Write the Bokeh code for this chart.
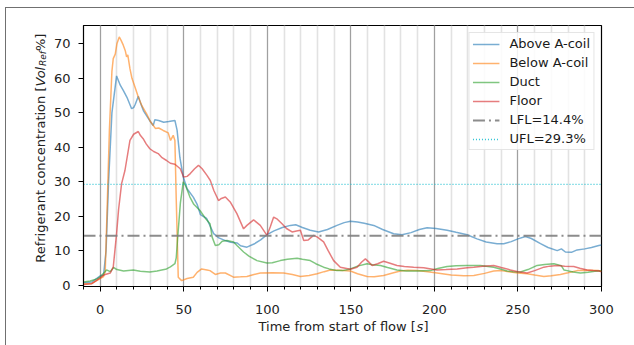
from math import pi

from bokeh.embed import file_html
from bokeh.models import Label, Legend, LegendItem, Range1d, SingleIntervalTicker
from bokeh.plotting import figure
from bokeh.resources import INLINE

# Refrigerant concentration readings (time in s, concentration in Vol_Ref %)
t_above = [-10, -5, 0, 2, 3.5, 5, 7, 9.8, 12, 13.8, 16, 18.8, 20, 21, 22.8, 24, 26, 28, 30,
           31.7, 32.7, 35, 38, 41, 44.7, 46, 47.7, 49.7, 52, 55.7, 58, 60, 63.7, 65.5, 67.9,
           71, 74.9, 78, 82, 84, 87.8, 92, 96, 99.8, 104, 109, 113.8, 117, 121, 125.7, 130.7,
           136, 141.7, 146, 149.7, 154, 158, 163.7, 169, 175.6, 180.6, 186, 191, 195.6, 201,
           207.6, 213, 219.6, 225.5, 231, 237.5, 241.5, 246, 250, 254.5, 258, 263.5, 268,
           273.5, 276, 278.4, 282, 285.4, 290, 294, 298.4, 300]
v_above = [0.8, 1.0, 2.8, 3.0, 10, 30, 50, 60.7, 58, 56.5, 54.5, 51.2, 51.5, 52.5, 54.8, 53,
           50.5, 49, 47.5, 46.3, 48, 47.8, 47.3, 47.5, 47.8, 45, 37, 31.4, 28, 25.6, 23.5,
           20.5, 19.4, 17.5, 15, 13.8, 13, 12.5, 12.3, 11.5, 11.1, 12, 13.2, 14.7, 15.8, 16.8,
           17.4, 17.6, 16.8, 16, 15.5, 16.2, 17.4, 18.2, 18.6, 18.4, 18, 17.4, 16.2, 15, 14.7,
           15.3, 16.2, 16.7, 16.5, 16, 15.4, 14.7, 13.5, 12.6, 12.1, 12.1, 12.7, 13.5, 14.2,
           13.6, 12.1, 11, 10.1, 10.6, 9.7, 9.6, 10.3, 10.6, 11, 11.6, 11.7]

t_below = [-10, -5, 0, 2, 3, 4, 5.5, 7, 7.8, 9, 10, 11.4, 12.5, 13.8, 15, 15.8, 16.5, 17.8,
           19, 20.8, 22.8, 25, 27.7, 30, 31.7, 33, 35, 37.7, 40.7, 42.1, 43.7, 44.7, 45.5,
           46.7, 48.7, 52, 55.7, 58, 60.7, 63.9, 65.7, 68.9, 72, 74.9, 79.8, 84, 87.8, 92,
           95.8, 103, 109.8, 115, 119.8, 125, 129.8, 134, 137.7, 143, 149.7, 154, 159.7, 164,
           169.6, 175, 179.6, 184, 189.6, 196, 201.6, 210, 217.6, 223.6, 230, 235.5, 240,
           245.5, 250, 255.5, 260, 265.5, 270, 275.4, 280, 285.4, 292, 298.4, 300]
v_below = [0.4, 0.6, 2.0, 2.6, 4, 20, 45, 62, 65.7, 67, 70, 72, 71, 69.6, 68, 66.2, 66.8,
           62.8, 60, 57.5, 54.6, 52, 49.8, 47.5, 46.4, 45.5, 45.6, 44.9, 44.2, 42, 43.5, 42,
           25, 2.4, 1.4, 2, 2.4, 3.8, 4.8, 4.5, 4.3, 3.2, 3.6, 3.6, 2.4, 2.5, 2.6, 3.2, 3.6,
           3.7, 3.6, 3.2, 2.6, 2.9, 3.4, 4, 4.5, 4.4, 4.2, 3.4, 2.6, 2.5, 2.9, 3.6, 4.2, 4.4,
           4.3, 4.0, 3.6, 3.0, 2.8, 2.9, 3.5, 4.2, 4.3, 3.9, 3.6, 3.4, 3.0, 2.6, 2.8, 3.2,
           3.7, 4.3, 4.4, 4.3, 4.2]

t_duct = [-10, -6, -2, -0.2, 2, 3.8, 6, 8, 10, 14, 19.8, 24, 29.7, 34, 39.7, 42, 44.7, 45.5,
          46.7, 48, 49.7, 51, 53.7, 56, 59.7, 62.9, 65.7, 67, 68.9, 71, 73, 75.9, 79.8, 82,
          85.8, 89, 93.8, 99.8, 103, 107.8, 112, 117.8, 121, 125.7, 129, 133.7, 137, 141.7,
          145, 149.7, 154, 159.7, 163, 167.7, 172, 177.6, 183, 189.6, 197.6, 202, 207.6, 213,
          219.6, 227.5, 235.5, 240, 243.5, 247, 251.5, 256, 261.5, 266, 271.5, 276, 277.5,
          279.4, 283, 287.4, 292, 296, 298.4, 300]
v_duct = [1.0, 1.3, 1.9, 2.4, 3.5, 4.5, 4.0, 5.2, 4.6, 4.2, 4.5, 4.1, 3.9, 4.2, 4.8, 5.4,
          6.3, 8, 16, 24, 30, 29, 25.6, 23.5, 21.7, 19.5, 17.9, 14, 11.6, 11.8, 12.8, 13,
          12.6, 11.5, 9.7, 8.5, 7.2, 6.5, 6.6, 7.2, 7.6, 7.9, 7.6, 7.2, 6.3, 5.3, 4.8, 4.3,
          4.3, 4.8, 5.6, 6.3, 6.0, 5.8, 5.2, 4.5, 4.2, 4.2, 4.3, 4.9, 5.5, 5.7, 5.8, 5.8, 5.3,
          4.7, 4.2, 4.0, 3.9, 4.6, 5.8, 6.1, 6.3, 5.7, 4.5, 4.3, 3.9, 3.6, 3.8, 4.1, 4.2, 4.2]

t_floor = [-10, -5, 0, 2, 4, 6, 7.8, 9.8, 11, 12.8, 14.8, 17.8, 20, 22.8, 24, 25.7, 27.5,
           29.7, 32, 34.7, 37, 39.7, 42, 44.7, 47.9, 49.9, 52, 53.9, 56.5, 58.8, 61, 63.9,
           65.9, 68, 70.8, 72.5, 74.9, 77.8, 81.8, 85.8, 87.8, 91.8, 95.8, 99.8, 101.8, 103.8,
           106, 108.8, 111.5, 114.8, 117.5, 119.8, 121.8, 124.5, 127.7, 130, 133.7, 136.5,
           139.7, 143.7, 149.7, 153.7, 156.5, 158.7, 160.5, 162.7, 166, 169.6, 173, 177.6,
           182, 187.6, 193.6, 201.6, 207, 213.6, 219.6, 223.6, 229, 235.5, 240, 245.5, 250,
           255.5, 260, 265.5, 269, 273.5, 278, 283.4, 287, 291.4, 295, 298.4, 300]
v_floor = [0.3, 0.5, 2.2, 3.0, 3.3, 3.6, 5.3, 15, 22, 29.5, 33.3, 42, 43.8, 44.6, 43.5, 42.5,
           41, 39.6, 38.8, 38.2, 37, 36.2, 35.4, 35.1, 33.8, 31.4, 31.6, 32.4, 33.8, 34.8,
           33.8, 31.9, 30.4, 27.5, 24.6, 25.2, 25.6, 24.2, 20.8, 16.4, 17.4, 19.0, 17.4, 14.5,
           17, 19.8, 19.2, 17.9, 16.5, 15.5, 15.8, 16, 13, 13.2, 14.5, 14, 12.6, 10, 7.2, 5.3,
           4.7, 5.3, 6.8, 7.7, 6.9, 5.8, 6.3, 7.0, 6.5, 5.8, 5.5, 5.3, 5.1, 4.5, 4.6, 4.8,
           5.1, 5.3, 5.6, 5.8, 5.2, 4.5, 4.0, 3.6, 4.3, 5.3, 5.6, 5.8, 5.6, 5.5, 5.0, 4.5,
           4.3, 4.2, 4.0]

LFL = 14.4
UFL = 29.3
x_start, x_end = -10, 300
y_start, y_end = -0.3, 75.3
y_ticks = [0, 10, 20, 30, 40, 50, 60, 70]

FONT = "DejaVu Sans"
FS = "13px"

p = figure(
    frame_width=518, frame_height=261,
    min_border_left=77, min_border_right=33, min_border_top=17, min_border_bottom=59,
    x_range=Range1d(x_start, x_end), y_range=Range1d(y_start, y_end),
    output_backend="svg", toolbar_location=None,
    background_fill_color="white", border_fill_color="white",
)
p.margin = (7, 0, 0, 5)
p.styles = {"border-top": "1px solid #707070", "border-left": "1px solid #707070"}

p.outline_line_color = "black"
p.outline_line_width = 1.2

# axes
p.xaxis.ticker = SingleIntervalTicker(interval=50, num_minor_ticks=5)
p.yaxis.ticker = y_ticks
for ax in (p.xaxis[0], p.yaxis[0]):
    ax.axis_line_color = "black"
    ax.major_tick_line_color = "black"
    ax.major_tick_out = 5
    ax.major_tick_in = 0
    ax.major_label_text_font = FONT
    ax.major_label_text_font_size = FS
    ax.major_label_text_color = "#222222"
p.xaxis.minor_tick_line_color = "black"
p.xaxis.minor_tick_out = 3
p.xaxis.minor_tick_in = 0
p.yaxis.minor_tick_line_color = None
p.xaxis.major_label_standoff = 13
p.yaxis.major_label_standoff = 8

# grid: vertical lines only, darker at the 50 s marks
p.ygrid.grid_line_color = None
p.xgrid.grid_line_color = "#a0a0a0"
p.xgrid.grid_line_width = 1.1
p.xgrid.minor_grid_line_color = "#e2e2e2"
p.xgrid.minor_grid_line_width = 1.6

# series
r_above = p.line(t_above, v_above, line_color="#1f77b4", line_alpha=0.6, line_width=1.5)
r_below = p.line(t_below, v_below, line_color="#ff7f0e", line_alpha=0.6, line_width=1.5)
r_duct = p.line(t_duct, v_duct, line_color="#2ca02c", line_alpha=0.6, line_width=1.5)
r_floor = p.line(t_floor, v_floor, line_color="#d62728", line_alpha=0.6, line_width=1.5)

# flammability limits
r_lfl = p.line([x_start, x_end], [LFL, LFL], line_color="#808080", line_width=1.8,
               line_dash="12 4 2 4", line_alpha=0.9)
r_ufl = p.line([x_start, x_end], [UFL, UFL], line_color="#17becf", line_width=1.3,
               line_dash="1 2", line_alpha=0.9)

legend = Legend(
    items=[
        LegendItem(label="Above A-coil", renderers=[r_above]),
        LegendItem(label="Below A-coil", renderers=[r_below]),
        LegendItem(label="Duct", renderers=[r_duct]),
        LegendItem(label="Floor", renderers=[r_floor]),
        LegendItem(label="LFL=14.4%", renderers=[r_lfl]),
        LegendItem(label="UFL=29.3%", renderers=[r_ufl]),
    ],
    location="top_right",
    margin=7,
    padding=3,
    spacing=4,
    glyph_width=27,
    glyph_height=14,
    label_height=14,
    label_standoff=10,
    label_text_font=FONT,
    label_text_font_size=FS,
    label_text_color="#1a1a1a",
    border_line_color="#cccccc",
    border_line_width=1,
    background_fill_color="white",
    background_fill_alpha=0.85,
)
p.add_layout(legend)

# Axis titles are assembled from styled pieces. Each piece is anchored at the
# frame's lower-left corner (data units) and shifted in pixels, and lives in a
# side panel so that it is drawn outside the plotting frame.
base = dict(x=x_start, y=y_start, text_font=FONT, text_color="#222222")

# x title: "Time from start of flow [s]" with an italic s
xt = dict(base, y_offset=-40, text_baseline="middle", text_align="left", text_font_size=FS)
p.add_layout(Label(text="Time from start of flow [", x_offset=175, **xt), "below")
p.add_layout(Label(text="s", x_offset=333, text_font_style="italic", **xt), "left")
p.add_layout(Label(text="]", x_offset=340, **xt), "left")

# y title: "Refrigerant concentration [Vol_Ref%]" with italic Vol and subscript Ref
yt = dict(base, angle=pi / 2, text_baseline="alphabetic")
p.add_layout(Label(text="Refrigerant concentration [", x_offset=-43, y_offset=200,
                   text_align="right", text_font_size=FS, **yt), "left")
p.add_layout(Label(text="Vol", x_offset=-43, y_offset=200, text_align="left",
                   text_font_size=FS, text_font_style="italic", **yt), "left")
p.add_layout(Label(text="Ref", x_offset=-40.5, y_offset=220.5, text_align="left",
                   text_font_size="9px", text_font_style="italic", **yt), "right")
p.add_layout(Label(text="%]", x_offset=-43, y_offset=235.5, text_align="left",
                   text_font_size=FS, **yt), "right")

open("out.html", "w").write(file_html(p, INLINE))
